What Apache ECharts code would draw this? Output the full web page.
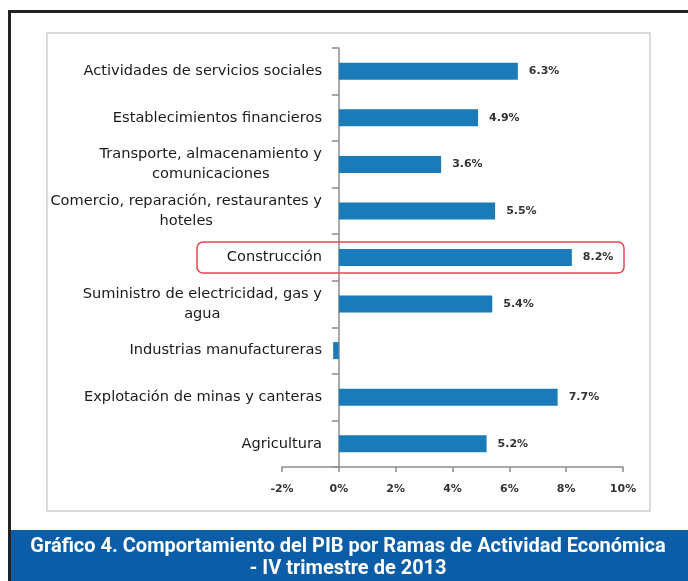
<!DOCTYPE html>
<html>
<head>
<meta charset="utf-8">
<script src="https://cdn.jsdelivr.net/npm/echarts@6/dist/echarts.min.js"></script>
<style>
  html, body { margin: 0; padding: 0; background: #fff; }
  #chart { width: 688px; height: 581px; }
</style>
</head>
<body>
<div id="chart"></div>
<script>
const FONT = '"DejaVu Sans", "Open Sans", sans-serif';
const TITLE_FONT = 'Roboto, "Liberation Sans", sans-serif';

// top to bottom, as in the picture
const categories = [
    'Actividades de servicios sociales',
    'Establecimientos financieros',
    'Transporte, almacenamiento y\ncomunicaciones',
    'Comercio, reparación, restaurantes y\nhoteles',
    'Construcción',
    'Suministro de electricidad, gas y\nagua',
    'Industrias manufactureras',
    'Explotación de minas y canteras',
    'Agricultura',
];
const growth = [6.3, 4.9, 3.6, 5.5, 8.2, 5.4, -0.2, 7.7, 5.2];
const showLabel = [true, true, true, true, true, true, false, true, true];
const xTicks = { min: -2, max: 10, step: 2 };

const chart = echarts.init(document.getElementById('chart'), null, { renderer: 'canvas' });

chart.setOption({
    animation: false,
    grid: { left: 282, right: 65, top: 48, bottom: 114 },
    xAxis: {
        type: 'value',
        min: xTicks.min,
        max: xTicks.max,
        interval: xTicks.step,
        splitLine: { show: false },
        axisLine: { show: true, lineStyle: { color: '#8c8c8c', width: 1.5 } },
        axisTick: { show: true, length: 5, lineStyle: { color: '#8c8c8c', width: 1.5 } },
        axisLabel: {
            formatter: '{value}%',
            margin: 17,
            fontFamily: FONT,
            fontSize: 11,
            fontWeight: 'bold',
            color: '#333',
        },
    },
    yAxis: {
        type: 'category',
        inverse: true,
        data: categories,
        axisLine: { show: true, onZero: true, lineStyle: { color: '#8c8c8c', width: 1.5 } },
        axisTick: { show: true, length: 7, lineStyle: { color: '#8c8c8c', width: 1.5 } },
        axisLabel: {
            // labels sit left of the zero line, not the grid edge
            margin: -40,
            align: 'right',
            // second lines are centred under the first
            formatter: v => v.split('\n').map(l => `{c|${l}}`).join('\n'),
            rich: {
                c: { align: 'center', fontFamily: FONT, fontSize: 14.6, lineHeight: 20, color: '#1a1a1a' },
            },
        },
    },
    series: [{
        type: 'bar',
        barWidth: 17,
        itemStyle: { color: '#1b7bb8' },
        label: {
            show: true,
            position: 'right',
            distance: 11,
            formatter: p => p.value.toFixed(1) + '%',
            fontFamily: FONT,
            fontSize: 11,
            fontWeight: 'bold',
            color: '#333',
        },
        data: growth.map((v, i) => ({ value: v, label: { show: showLabel[i] } })),
    }],
    title: {
        text: 'Gráfico 4. Comportamiento del PIB por Ramas de Actividad Económica\n- IV trimestre de 2013',
        left: 343,
        top: 531,
        textAlign: 'center',
        textStyle: {
            fontFamily: TITLE_FONT,
            fontSize: 20,
            fontWeight: 'bold',
            color: '#fff',
            lineHeight: 22,
            align: 'center',
        },
    },
    graphic: [
        // outer frame
        { type: 'rect', z: -10, shape: { x: 8, y: 10, width: 700, height: 3 }, style: { fill: '#222' } },
        { type: 'rect', z: -10, shape: { x: 8, y: 10, width: 3, height: 600 }, style: { fill: '#222' } },
        // inner chart box
        { type: 'rect', z: -10, shape: { x: 47, y: 33, width: 603, height: 478 }, style: { fill: '#fff', stroke: '#dadada', lineWidth: 2 } },
        // banner
        { type: 'rect', z: -5, shape: { x: 11, y: 530, width: 690, height: 60 }, style: { fill: '#0c5da8' } },
        // highlight of Construcción
        { type: 'rect', z: 10, shape: { x: 197, y: 242, width: 427, height: 31, r: 6 }, style: { fill: 'none', stroke: '#e8434f', lineWidth: 1.5 } },
    ],
});
</script>
</body>
</html>
